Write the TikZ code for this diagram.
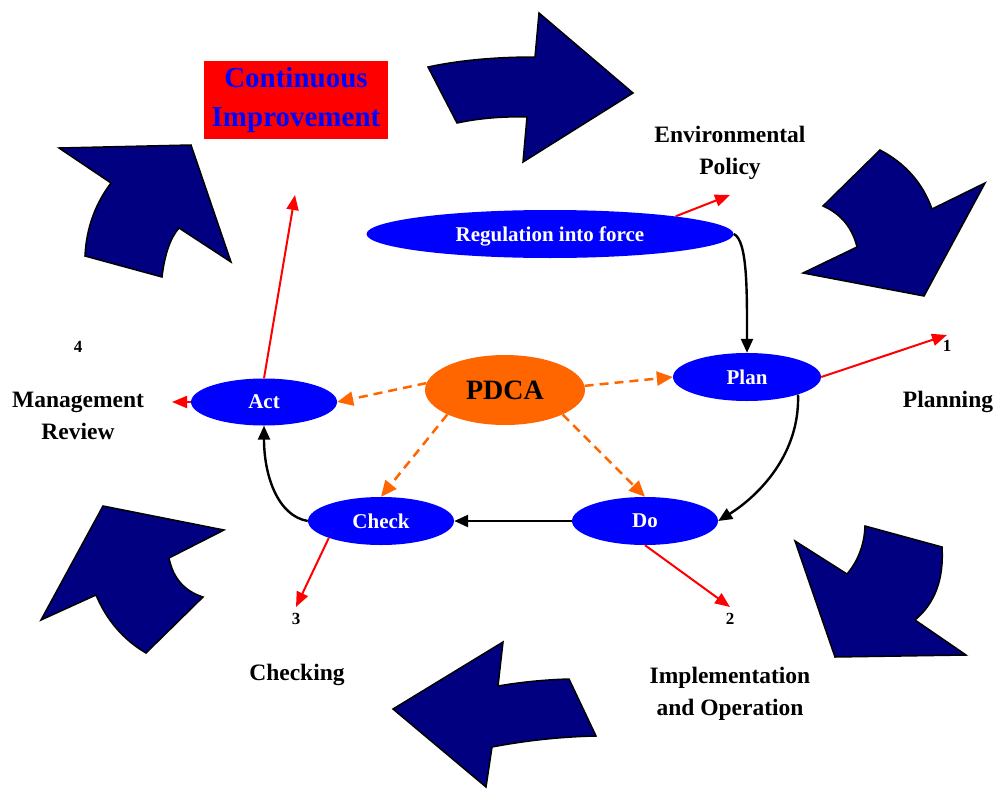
\documentclass[tikz,border=0pt]{standalone}
\usepackage{fontspec}
\setmainfont{Liberation Serif}
\usetikzlibrary{shapes.geometric,arrows.meta}
\definecolor{navyc}{HTML}{000080}
\definecolor{pdcaorange}{HTML}{FF6600}
\begin{document}
\begin{tikzpicture}[x=1pt,y=-1pt,
  bigarrow/.style={fill=navyc, draw=black, line width=1.5pt, line join=miter},
  pell/.style={ellipse, fill=blue, text=white, font=\bfseries\fontsize{21}{25}\selectfont, inner sep=0pt, minimum height=48pt},
  redarr/.style={draw=red, line width=2pt, -{Triangle[length=15pt,width=12pt]}},
  blackarr/.style={draw=black, line width=2.4pt, -{Triangle[length=14pt,width=12pt]}},
  dasharr/.style={draw=pdcaorange, line width=2.5pt, dash pattern=on 9pt off 6pt, -{Triangle[length=16pt,width=14pt]}},
  lbl/.style={font=\bfseries\fontsize{23.5}{32}\selectfont, align=center, inner sep=0pt},
  num/.style={font=\bfseries\fontsize{17}{20}\selectfont, inner sep=0pt}]
\useasboundingbox (0,0) rectangle (995,789);
\fill[white] (0,0) rectangle (995,789);

% big navy arrows
\draw[bigarrow] (428,67) .. controls (459.3,60.3) and (495,57) .. (535,57) -- (539,13) -- (633,93) -- (523,162) -- (527,117) .. controls (502.3,116.3) and (479,118.3) .. (457,123) -- cycle;
\draw[bigarrow] (880,150) .. controls (905.3,163.3) and (922.7,183) .. (932,209) -- (985,183) -- (924,296) -- (803,273) -- (857,247) .. controls (852.3,227.7) and (841,214) .. (823,206) -- cycle;
\draw[bigarrow] (865,526) -- (942,547) .. controls (944,579) and (935,603.3) .. (915,620) -- (966,655) -- (835,657) -- (795,541) -- (847,574) .. controls (857.7,561.3) and (864.3,545.3) .. (865,526) -- cycle;
\draw[bigarrow] (393,709) -- (503,642) -- (498,686) .. controls (521.3,682) and (545,679.7) .. (569,679) -- (596,736) .. controls (562,736.7) and (527.3,740.3) .. (492,747) -- (486,787) -- cycle;
\draw[bigarrow] (103,506) -- (224,530) -- (169,558) .. controls (173,578) and (184.3,591) .. (203,597) -- (146,653) .. controls (123.3,639.7) and (106.7,620.3) .. (96,595) -- (41,620) -- cycle;
\draw[bigarrow] (59,148) -- (191,145) -- (231,262) -- (179,228) .. controls (170.3,238) and (164.7,254.3) .. (162,277) -- (85,256) .. controls (86.3,226.7) and (96.3,202.3) .. (111,183) -- cycle;

% red box
\node[fill=red, minimum width=184pt, minimum height=78pt, inner sep=0pt, text=blue, align=center, font=\bfseries\fontsize{29}{39}\selectfont] (ci) at (296,100) {Continuous\\Improvement};

% ellipses
\node[pell, minimum width=367pt, text depth=0pt] (reg) at (550,234) {Regulation into force};
\node[pell, minimum width=148pt] (plan) at (747,377) {Plan};
\node[pell, minimum width=146pt] (do) at (645,521) {Do};
\node[pell, minimum width=146pt] (check) at (381,521) {Check};
\node[pell, minimum width=146pt, minimum height=47pt] (act) at (264,402) {Act};
\node[ellipse, fill=pdcaorange, minimum width=160pt, minimum height=70pt, inner sep=0pt, font=\bfseries\fontsize{28}{32}\selectfont] (pdca) at (505,390) {PDCA};

% labels
\node[lbl] (env) at (730,153) {Environmental\\Policy};
\node[lbl] (planning) at (948,402) {Planning};
\node[lbl] (impl) at (730,694) {Implementation\\and Operation};
\node[lbl] (checking) at (297,675) {Checking};
\node[lbl] (mgmt) at (78,416) {Management\\Review};
\node[num] (n1) at (947,346) {1};
\node[num] (n2) at (730,619) {2};
\node[num] (n3) at (296,619) {3};
\node[num] (n4) at (78,347) {4};

% red arrows
\coordinate (tEnv) at (730,195);
\coordinate (t1) at (947,335);
\coordinate (t2) at (730,607);
\coordinate (t3) at (296,607);
\coordinate (tUp) at (295,195);
\coordinate (t4) at (172,402);
\draw[redarr] (reg.8) -- (tEnv);
\draw[redarr] (plan.east) -- (t1);
\draw[redarr] (do.south) -- (t2);
\draw[redarr] (check.198) -- (t3);
\draw[redarr] (act.north) -- (tUp);
\draw[redarr] (act.west) -- (t4);

% black cycle
\draw[blackarr] (reg.east) .. controls +(14,6) and +(0,-60) .. (plan.north);
\draw[blackarr] (plan.-19) .. controls +(2,60) and +(40,-25) .. (do.east);
\draw[blackarr] (do.west) -- (check.east);
\draw[blackarr] (check.west) .. controls +(-30,-5) and +(0,50) .. (act.south);

% orange dashed
\draw[dasharr] (pdca.175) -- (act.east);
\draw[dasharr] (pdca.3) -- (plan.west);
\draw[dasharr] (pdca.203) -- (check.north);
\draw[dasharr] (pdca.-23) -- (do.north);
\end{tikzpicture}
\end{document}
